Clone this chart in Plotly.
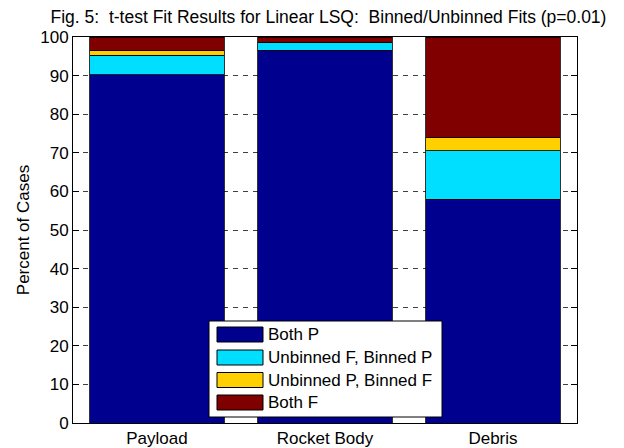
import plotly.graph_objects as go

categories = ["Payload", "Rocket Body", "Debris"]
series_names = ["Both P", "Unbinned F, Binned P", "Unbinned P, Binned F", "Both F"]
both_p = [90.2, 96.6, 58.0]
unb_f_bin_p = [5.1, 2.0, 12.5]
unb_p_bin_f = [1.2, 0.0, 3.4]
both_f = [3.5, 1.4, 26.1]
colors = ["#00008F", "#00DFFF", "#FFCF00", "#800000"]
y_ticks = list(range(0, 101, 10))

# plot area in pixels (for layout placement of the legend box)
L, R, T, B = 73, 577, 37, 423
W, H = 624, 448


def px_x(p):
    return (p - L) / (R - L)


def px_y(p):
    return (B - p) / (B - T)


x_pos = [1, 2, 3]
fig = go.Figure()
for name, vals, col in zip(series_names, [both_p, unb_f_bin_p, unb_p_bin_f, both_f], colors):
    fig.add_trace(go.Bar(x=x_pos, y=vals, name=name, width=0.8, showlegend=False,
                         hoverinfo="skip",
                         marker=dict(color=col, line=dict(color="black", width=0.8))))

font = "Liberation Sans, Arial, sans-serif"
FS = 17

# custom legend (MATLAB-style large swatches)
shapes = [dict(type="rect", xref="paper", yref="paper",
               x0=px_x(209), x1=px_x(442), y0=px_y(417), y1=px_y(321),
               fillcolor="white", line=dict(color="black", width=1), layer="above")]
annotations = []
row_centers = [334.5, 357.5, 380, 402.5]
for name, col, cy in zip(series_names, colors, row_centers):
    shapes.append(dict(type="rect", xref="paper", yref="paper",
                       x0=px_x(217), x1=px_x(263), y0=px_y(cy + 7.5), y1=px_y(cy - 7.5),
                       fillcolor=col, line=dict(color="black", width=1), layer="above"))
    annotations.append(dict(text=name, xref="paper", yref="paper", x=px_x(266), y=px_y(cy),
                            xanchor="left", yanchor="middle", showarrow=False,
                            font=dict(size=FS, family=font, color="black")))

fig.update_layout(
    barmode="stack",
    width=W, height=H,
    margin=dict(l=L, r=W - R, t=T, b=H - B),
    paper_bgcolor="white", plot_bgcolor="white",
    font=dict(family=font, size=FS, color="black"),
    title=dict(text="Fig. 5:  t-test Fit Results for Linear LSQ:  Binned/Unbinned Fits (p=0.01)",
               x=328.5 / W, xanchor="center", y=1 - 17 / H, yanchor="middle",
               font=dict(size=17.5, family=font)),
    xaxis=dict(range=[0.5, 3.5], tickvals=x_pos, ticktext=categories, showgrid=False,
               showline=True, linecolor="black", linewidth=1, mirror=True, automargin=False,
               ticks="", tickfont=dict(size=FS)),
    yaxis=dict(range=[0, 100], tickvals=y_ticks, showgrid=True, gridcolor="#404040",
               griddash="5px,5px", gridwidth=1, zeroline=False, automargin=False,
               showline=True, linecolor="black", linewidth=1, mirror="ticks",
               ticks="inside", ticklen=6, tickcolor="black", tickfont=dict(size=FS),
               title=dict(text="Percent of Cases", font=dict(size=FS), standoff=6)),
    shapes=shapes,
    annotations=annotations,
    showlegend=False,
)
fig.write_html("out.html", config={"displayModeBar": False},
               post_script="document.body.style.margin='0px';document.body.style.overflow='hidden';")
